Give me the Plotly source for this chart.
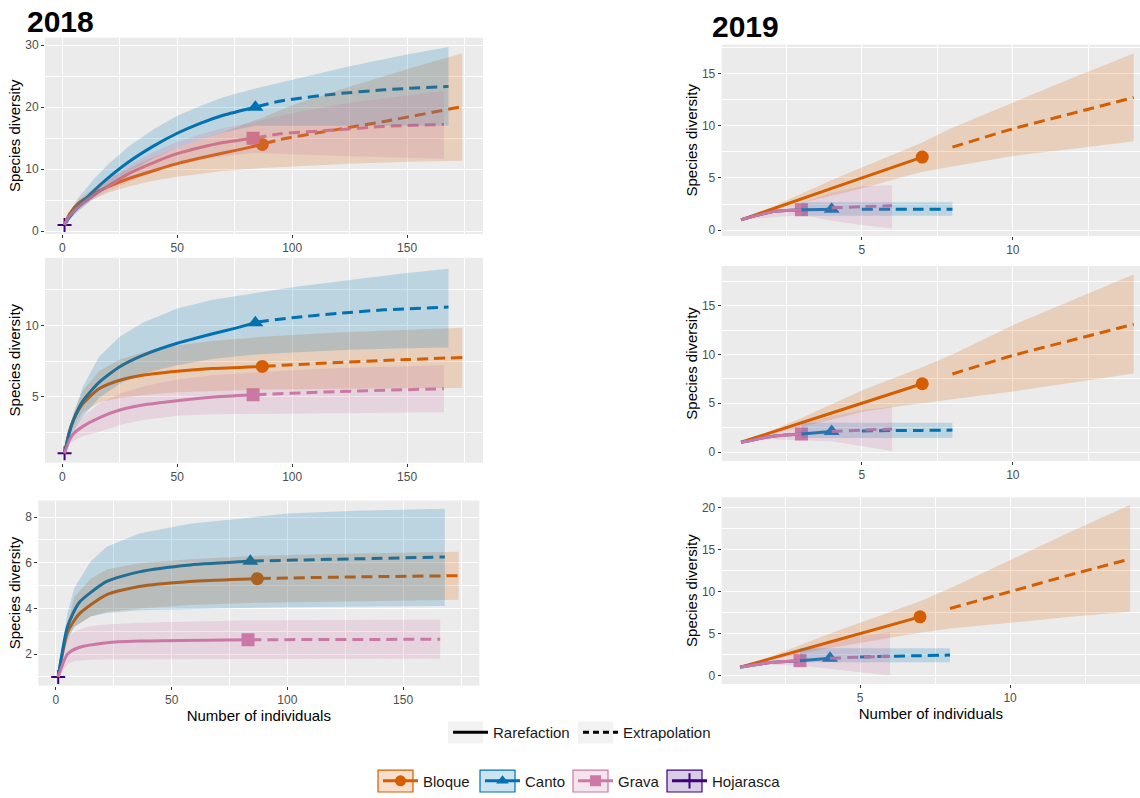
import plotly.graph_objects as go

# ---------------- groups ----------------
GROUPS = ["Bloque", "Canto", "Grava", "Hojarasca"]
COLORS = ["#D55E00", "#0072B2", "#CC79A7", "#3F007D"]
FILLS = ["rgba(213,94,0,0.2)", "rgba(0,114,178,0.2)", "rgba(204,121,167,0.2)", "rgba(63,0,125,0.2)"]
SYMBOLS = ["circle", "triangle-up", "square", "cross-thin"]
METHODS = ["Rarefaction", "Extrapolation"]

# ================= 2018, q = 0 =================
A_bloque_rx = [1, 3, 7, 14, 20, 29, 40, 50, 60, 70, 80, 87]
A_bloque_ry = [1, 2.7, 4.5, 6.1, 7.2, 8.5, 9.8, 10.9, 11.8, 12.6, 13.4, 14.0]
A_bloque_ex = [88, 95, 118, 140, 174]
A_bloque_ey = [14.1, 14.8, 16.3, 17.7, 20.1]
A_bloque_cx = [1, 3, 7, 14, 20, 29, 40, 50, 60, 70, 87, 100, 125, 150, 174]
A_bloque_hi = [1, 2.9, 5.0, 7.0, 8.4, 10.2, 12.0, 13.4, 14.8, 16.0, 18.3, 20.3, 23.3, 26.1, 28.7]
A_bloque_lo = [1, 2.5, 3.9, 5.3, 6.2, 7.2, 8.2, 8.8, 9.3, 9.7, 10.2, 10.5, 10.9, 11.2, 11.35]

A_canto_rx = [1, 3, 7, 14, 20, 29, 40, 50, 60, 70, 84]
A_canto_ry = [1, 2.2, 4.0, 6.6, 8.6, 11.2, 13.8, 15.8, 17.4, 18.7, 20.0]
A_canto_ex = [85, 95, 118, 140, 168]
A_canto_ey = [20.1, 21.0, 22.1, 22.8, 23.35]
A_canto_cx = [1, 3, 7, 14, 20, 29, 40, 50, 60, 70, 84, 100, 125, 150, 168]
A_canto_hi = [1, 3.0, 5.4, 8.5, 10.8, 13.7, 16.5, 18.6, 20.2, 21.6, 23.0, 24.4, 26.6, 28.5, 29.7]
A_canto_lo = [1, 1.9, 3.3, 5.5, 7.3, 9.6, 11.8, 13.4, 14.8, 15.9, 17.0, 17.0, 17.0, 17.0, 17.05]

A_grava_rx = [1, 3, 7, 14, 20, 29, 40, 50, 60, 70, 83]
A_grava_ry = [1, 2.4, 3.9, 5.9, 7.3, 9.3, 11.1, 12.5, 13.5, 14.3, 15.0]
A_grava_ex = [84, 95, 118, 140, 166]
A_grava_ey = [15.05, 15.7, 16.3, 16.9, 17.2]
A_grava_cx = [1, 3, 7, 14, 20, 29, 40, 50, 60, 70, 83, 100, 125, 150, 166]
A_grava_hi = [1, 2.7, 4.4, 6.6, 8.3, 10.7, 12.8, 14.4, 15.6, 16.6, 17.6, 19.0, 20.7, 21.9, 22.6]
A_grava_lo = [1, 2.1, 3.4, 5.3, 6.5, 8.0, 9.5, 10.7, 11.5, 12.1, 12.6, 12.4, 12.1, 11.9, 11.7]

A_hoja_rx = [1]
A_hoja_ry = [1]

# ================= 2018, q = 1 =================
B_bloque_rx = [1, 3, 5, 9, 16, 25, 35, 50, 65, 87]
B_bloque_ry = [1, 2.5, 3.4, 4.5, 5.55, 6.15, 6.5, 6.78, 6.97, 7.12]
B_bloque_ex = [88, 120, 150, 174]
B_bloque_ey = [7.13, 7.4, 7.6, 7.75]
B_bloque_cx = [1, 3, 5, 9, 16, 25, 35, 50, 65, 87, 120, 150, 174]
B_bloque_hi = [1, 2.8, 3.9, 5.4, 6.8, 7.6, 8.1, 8.6, 8.9, 9.2, 9.5, 9.7, 9.85]
B_bloque_lo = [1, 2.2, 2.9, 3.9, 4.6, 4.9, 5.1, 5.3, 5.4, 5.5, 5.55, 5.6, 5.6]

B_canto_rx = [1, 3, 5, 9, 16, 25, 35, 50, 65, 75, 84]
B_canto_ry = [1, 2.4, 3.4, 4.7, 6.0, 7.1, 7.9, 8.75, 9.4, 9.8, 10.2]
B_canto_ex = [85, 100, 120, 140, 168]
B_canto_ey = [10.25, 10.55, 10.85, 11.1, 11.3]
B_canto_cx = [1, 3, 5, 9, 16, 25, 35, 50, 65, 84, 100, 125, 150, 168]
B_canto_hi = [1, 2.7, 3.8, 5.7, 7.8, 9.2, 10.2, 11.2, 11.8, 12.3, 12.7, 13.2, 13.7, 14.0]
B_canto_lo = [1, 2.0, 2.6, 3.6, 4.9, 5.9, 6.6, 7.2, 7.65, 7.95, 8.1, 8.3, 8.4, 8.45]

B_grava_rx = [1, 3, 5, 9, 16, 25, 35, 50, 65, 83]
B_grava_ry = [1, 1.9, 2.4, 2.9, 3.5, 4.05, 4.4, 4.7, 4.95, 5.12]
B_grava_ex = [84, 120, 166]
B_grava_ey = [5.13, 5.35, 5.55]
B_grava_cx = [1, 3, 5, 9, 16, 25, 35, 50, 65, 83, 120, 166]
B_grava_hi = [1, 2.2, 2.9, 3.6, 4.5, 5.2, 5.7, 6.2, 6.5, 6.7, 7.0, 7.2]
B_grava_lo = [1, 1.6, 1.9, 2.2, 2.5, 3.0, 3.35, 3.65, 3.75, 3.8, 3.85, 3.9]

B_hoja_rx = [1]
B_hoja_ry = [1]

# ================= 2018, q = 2 =================
C_bloque_rx = [1, 5, 10, 22, 36, 58, 80, 87]
C_bloque_ry = [1, 2.95, 3.75, 4.6, 4.96, 5.18, 5.28, 5.3]
C_bloque_ex = [88, 130, 174]
C_bloque_ey = [5.31, 5.38, 5.43]
C_bloque_cx = [1, 5, 8, 15, 22, 36, 58, 87, 130, 174]
C_bloque_hi = [1, 3.3, 4.5, 5.3, 5.7, 5.98, 6.15, 6.3, 6.4, 6.48]
C_bloque_lo = [1, 2.7, 3.2, 3.65, 3.85, 4.0, 4.15, 4.25, 4.33, 4.38]

C_canto_rx = [1, 5, 10, 22, 36, 58, 84]
C_canto_ry = [1, 3.2, 4.25, 5.18, 5.6, 5.9, 6.06]
C_canto_ex = [85, 120, 168]
C_canto_ey = [6.07, 6.15, 6.25]
C_canto_cx = [1, 5, 8, 15, 22, 36, 58, 80, 100, 130, 168]
C_canto_hi = [1, 3.8, 4.9, 6.05, 6.7, 7.28, 7.7, 7.95, 8.15, 8.27, 8.36]
C_canto_lo = [1, 2.6, 3.2, 3.65, 3.8, 3.92, 3.98, 4.02, 4.05, 4.08, 4.1]

C_grava_rx = [1, 5, 10, 22, 36, 83]
C_grava_ry = [1, 2.0, 2.29, 2.5, 2.57, 2.63]
C_grava_ex = [84, 166]
C_grava_ey = [2.63, 2.65]
C_grava_cx = [1, 5, 8, 15, 22, 36, 80, 166]
C_grava_hi = [1, 2.7, 3.0, 3.23, 3.3, 3.37, 3.47, 3.52]
C_grava_lo = [1, 1.56, 1.7, 1.75, 1.78, 1.79, 1.79, 1.8]

C_hoja_rx = [1]
C_hoja_ry = [1]

# ================= 2019, q = 0 =================
D_bloque_rx = [1, 4, 7]
D_bloque_ry = [1, 4, 7]
D_bloque_ex = [8, 10, 12, 14]
D_bloque_ey = [7.95, 9.7, 11.2, 12.7]
D_bloque_cx = [1, 2, 3, 4, 5, 6, 7, 8, 10, 12, 14]
D_bloque_hi = [1, 2.2, 3.5, 4.8, 6.0, 7.2, 8.4, 9.8, 12.2, 14.6, 16.9]
D_bloque_lo = [1, 1.8, 2.6, 3.3, 4.0, 4.8, 5.6, 6.1, 7.1, 7.8, 8.5]

D_canto_rx = [1, 2, 3, 4]
D_canto_ry = [1, 1.75, 1.95, 2.0]
D_canto_ex = [5, 6, 7, 8]
D_canto_ey = [2.0, 2.0, 2.0, 2.0]
D_canto_cx = [3, 4, 5, 6, 7, 8]
D_canto_hi = [2.68, 2.68, 2.68, 2.68, 2.68, 2.68]
D_canto_lo = [1.38, 1.38, 1.38, 1.38, 1.38, 1.38]

D_grava_rx = [1, 2, 3]
D_grava_ry = [1, 1.75, 1.95]
D_grava_ex = [4, 5, 6]
D_grava_ey = [2.15, 2.25, 2.35]
D_grava_cx = [1, 2, 3, 4, 5, 6]
D_grava_hi = [1, 1.8, 2.6, 3.6, 4.2, 4.3]
D_grava_lo = [1, 1.2, 1.45, 0.9, 0.5, 0.2]

# ================= 2019, q = 1 =================
E_bloque_rx = [1, 4, 7]
E_bloque_ry = [1, 4, 7]
E_bloque_ex = [8, 10, 12, 14]
E_bloque_ey = [8.0, 9.9, 11.5, 13.1]
E_bloque_cx = [1, 2, 3, 4, 5, 6, 7, 8, 10, 12, 14]
E_bloque_hi = [1, 2.2, 3.5, 4.9, 6.3, 7.5, 8.7, 10.0, 13.0, 15.6, 18.2]
E_bloque_lo = [1, 1.8, 2.6, 3.3, 4.1, 4.6, 5.0, 5.4, 6.2, 7.1, 8.05]

E_canto_rx = [1, 2, 3, 4]
E_canto_ry = [1, 1.6, 1.85, 2.1]
E_canto_ex = [5, 6, 7, 8]
E_canto_ey = [2.15, 2.2, 2.22, 2.25]
E_canto_cx = [3, 4, 5, 6, 7, 8]
E_canto_hi = [3.0, 3.0, 3.0, 3.0, 3.0, 3.0]
E_canto_lo = [1.45, 1.45, 1.45, 1.45, 1.45, 1.45]

E_grava_rx = [1, 2, 3]
E_grava_ry = [1, 1.6, 1.85]
E_grava_ex = [4, 5, 6]
E_grava_ey = [2.1, 2.25, 2.35]
E_grava_cx = [1, 2, 3, 4, 5, 6]
E_grava_hi = [1, 1.9, 2.9, 3.7, 4.3, 4.65]
E_grava_lo = [1, 1.3, 1.2, 1.1, 0.6, 0.1]

# ================= 2019, q = 2 =================
F_bloque_rx = [1, 4, 7]
F_bloque_ry = [1, 4, 7]
F_bloque_ex = [8, 10, 12, 14]
F_bloque_ey = [8.0, 10.0, 12.0, 13.9]
F_bloque_cx = [1, 2, 3, 4, 5, 6, 7, 8, 10, 12, 14]
F_bloque_hi = [1, 2.2, 3.6, 5.0, 6.3, 7.6, 8.85, 10.4, 13.8, 17.1, 20.35]
F_bloque_lo = [1, 1.8, 2.6, 3.3, 3.9, 4.5, 5.1, 5.6, 6.3, 7.0, 7.6]

F_canto_rx = [1, 2, 3, 4]
F_canto_ry = [1, 1.55, 1.77, 2.05]
F_canto_ex = [5, 6, 7, 8]
F_canto_ey = [2.2, 2.3, 2.37, 2.44]
F_canto_cx = [3, 4, 5, 6, 7, 8]
F_canto_hi = [3.27, 3.27, 3.27, 3.27, 3.27, 3.27]
F_canto_lo = [1.58, 1.58, 1.58, 1.58, 1.58, 1.58]

F_grava_rx = [1, 2, 3]
F_grava_ry = [1, 1.55, 1.77]
F_grava_ex = [4, 5, 6]
F_grava_ey = [2.05, 2.2, 2.29]
F_grava_cx = [1, 2, 3, 4, 5, 6]
F_grava_hi = [1, 1.9, 2.9, 3.9, 4.7, 5.2]
F_grava_lo = [1, 1.3, 1.2, 0.8, 0.4, 0.0]

# ---------------- axis settings ----------------
X_TICKS_2018 = [0, 50, 100, 150]
X_TICKS_2019 = [5, 10]
Y_TICKS = {
    "A": [0, 10, 20, 30],
    "B": [5, 10],
    "C": [2, 4, 6, 8],
    "D": [0, 5, 10, 15],
    "E": [0, 5, 10, 15],
    "F": [0, 5, 10, 15, 20],
}
YEAR_LABELS = ["2018", "2019"]
Y_TITLE = "Species diversity"
X_TITLE = "Number of individuals"

W, H = 1140, 798


def px_dom_x(a, b):
    return [a / W, b / W]


def px_dom_y(top, bottom):
    return [1 - bottom / H, 1 - top / H]


PANELS = [
    dict(key="A", i=1, xd=(45, 483), yd=(38, 236), xr=[-7.5, 183], yr=[-0.43, 31.2], xdt=50, ydt=10),
    dict(key="B", i=2, xd=(45, 483), yd=(260, 466.7), xr=[-7.5, 183], yr=[0.35, 14.77], xdt=50, ydt=5),
    dict(key="C", i=3, xd=(38.3, 479.3), yd=(505, 691.7), xr=[-7.6, 182.9], yr=[0.62, 8.72], xdt=50, ydt=2),
    dict(key="D", i=4, xd=(721.7, 1140), yd=(45, 238), xr=[0.36, 14.21], yr=[-0.54, 17.75], xdt=5, ydt=5),
    dict(key="E", i=5, xd=(721.7, 1140), yd=(268.3, 465), xr=[0.36, 14.21], yr=[-0.91, 19.07], xdt=5, ydt=5),
    dict(key="F", i=6, xd=(721.7, 1140), yd=(501.7, 690), xr=[0.39, 14.33], yr=[-1.0, 21.25], xdt=5, ydt=5),
]

DATA = {}
for key in "ABCDEF":
    g = globals()
    series = []
    for gi, name in enumerate(["bloque", "canto", "grava"]):
        series.append(dict(
            gi=gi,
            rx=g[f"{key}_{name}_rx"], ry=g[f"{key}_{name}_ry"],
            ex=g[f"{key}_{name}_ex"], ey=g[f"{key}_{name}_ey"],
            cx=g[f"{key}_{name}_cx"], hi=g[f"{key}_{name}_hi"], lo=g[f"{key}_{name}_lo"],
        ))
    hoja = None
    if f"{key}_hoja_rx" in g:
        hoja = dict(rx=g[f"{key}_hoja_rx"], ry=g[f"{key}_hoja_ry"])
    DATA[key] = (series, hoja)

fig = go.Figure()
FONT = "Liberation Sans, Arial, sans-serif"

for p in PANELS:
    i = p["i"]
    xa = "x" if i == 1 else f"x{i}"
    ya = "y" if i == 1 else f"y{i}"
    series, hoja = DATA[p["key"]]
    # observed points (drawn first, as in ggiNEXT)
    for s in series:
        gi = s["gi"]
        fig.add_trace(go.Scatter(
            x=[s["rx"][-1]], y=[s["ry"][-1]], mode="markers", xaxis=xa, yaxis=ya,
            marker=dict(symbol=SYMBOLS[gi], size=13 if gi != 1 else 14, color=COLORS[gi]),
            showlegend=False, hoverinfo="skip"))
    if hoja is not None:
        fig.add_trace(go.Scatter(
            x=hoja["rx"], y=hoja["ry"], mode="markers", xaxis=xa, yaxis=ya,
            marker=dict(symbol="cross-thin", size=10, color=COLORS[3],
                        line=dict(color=COLORS[3], width=2)),
            showlegend=False, hoverinfo="skip"))
    # rarefaction / extrapolation lines
    for s in series:
        gi = s["gi"]
        fig.add_trace(go.Scatter(
            x=s["rx"], y=s["ry"], mode="lines", xaxis=xa, yaxis=ya,
            line=dict(color=COLORS[gi], width=3, shape="spline", smoothing=0.6),
            showlegend=False, hoverinfo="skip"))
        fig.add_trace(go.Scatter(
            x=s["ex"], y=s["ey"], mode="lines", xaxis=xa, yaxis=ya,
            line=dict(color=COLORS[gi], width=3, dash="11px,6px", shape="spline", smoothing=0.6),
            showlegend=False, hoverinfo="skip"))
    # confidence ribbons (on top, alpha 0.2)
    for s in series:
        gi = s["gi"]
        fig.add_trace(go.Scatter(
            x=list(s["cx"]) + list(s["cx"])[::-1],
            y=list(s["hi"]) + list(s["lo"])[::-1],
            mode="lines", fill="toself", fillcolor=FILLS[gi], xaxis=xa, yaxis=ya,
            line=dict(width=0, color=FILLS[gi]),
            showlegend=False, hoverinfo="skip"))

    common = dict(
        showgrid=True, gridcolor="white", gridwidth=1.2, zeroline=False, showline=False,
        ticks="outside", ticklen=3, tickwidth=1, tickcolor="#333333",
        tickfont=dict(family=FONT, size=12, color="#4D4D4D"), automargin=False,
    )
    xaxis = dict(common, domain=px_dom_x(*p["xd"]), range=p["xr"], anchor=ya,
                 tickmode="array",
                 tickvals=X_TICKS_2018 if p["key"] in "ABC" else X_TICKS_2019,
                 minor=dict(dtick=p["xdt"] / 2, tick0=0, showgrid=True, gridcolor="white",
                            gridwidth=0.6, ticklen=0))
    yaxis = dict(common, domain=px_dom_y(*p["yd"]), range=p["yr"], anchor=xa,
                 tickmode="array", tickvals=Y_TICKS[p["key"]],
                 minor=dict(dtick=p["ydt"] / 2, tick0=0, showgrid=True, gridcolor="white",
                            gridwidth=0.6, ticklen=0),
                 title=dict(text=Y_TITLE, font=dict(family=FONT, size=15, color="black"),
                            standoff=0))
    if p["key"] in "CF":
        xaxis["title"] = dict(text=X_TITLE, font=dict(family=FONT, size=15, color="black"),
                              standoff=2)
    fig.layout[("xaxis" if i == 1 else f"xaxis{i}")] = xaxis
    fig.layout[("yaxis" if i == 1 else f"yaxis{i}")] = yaxis

# ---------------- legends: one small legend per entry ----------------
# key box left edge (px) and vertical centre (px) for each entry
LEG_METHOD_LEFT = [448, 578]
LEG_METHOD_Y = 739
LEG_GROUP_LEFT = [378, 480, 573, 667]
LEG_GROUP_Y = 788

legend_layout = {}
shapes = []
for mi, m in enumerate(METHODS):
    lname = "legend" if mi == 0 else f"legend{mi + 1}"
    fig.add_trace(go.Scatter(
        x=[None], y=[None], mode="lines", name=m, legend=lname,
        line=dict(color="black", width=3, dash="solid" if mi == 0 else "6px,4px")))
    legend_layout[lname] = dict(
        x=LEG_METHOD_LEFT[mi] / W, xanchor="left", y=1 - LEG_METHOD_Y / H, yanchor="middle",
        font=dict(family=FONT, size=15, color="#1A1A1A"), bgcolor="rgba(0,0,0,0)",
        itemwidth=35, borderwidth=0)
    shapes.append(dict(type="rect", xref="paper", yref="paper", layer="below",
                       x0=LEG_METHOD_LEFT[mi] / W, x1=(LEG_METHOD_LEFT[mi] + 35) / W,
                       y0=1 - (LEG_METHOD_Y + 11) / H, y1=1 - (LEG_METHOD_Y - 11) / H,
                       fillcolor="#F2F2F2", line=dict(width=0)))
for gi, gname in enumerate(GROUPS):
    lname = f"legend{gi + 3}"
    fig.add_trace(go.Scatter(
        x=[None], y=[None], mode="lines+markers", name=gname, legend=lname,
        line=dict(color=COLORS[gi], width=3),
        marker=dict(symbol=SYMBOLS[gi], size=11, color=COLORS[gi],
                    line=dict(color=COLORS[gi], width=2 if gi == 3 else 0))))
    legend_layout[lname] = dict(
        x=LEG_GROUP_LEFT[gi] / W, xanchor="left", y=1 - LEG_GROUP_Y / H, yanchor="middle",
        font=dict(family=FONT, size=15, color="#1A1A1A"), bgcolor="rgba(0,0,0,0)",
        itemwidth=35, borderwidth=0)
    shapes.append(dict(type="rect", xref="paper", yref="paper", layer="below",
                       x0=LEG_GROUP_LEFT[gi] / W, x1=(LEG_GROUP_LEFT[gi] + 35) / W,
                       y0=1 - (LEG_GROUP_Y + 11) / H, y1=1 - (LEG_GROUP_Y - 11) / H,
                       fillcolor=FILLS[gi], line=dict(width=1.2, color=COLORS[gi])))

fig.update_layout(
    width=W, height=H,
    margin=dict(l=0, r=0, t=0, b=0),
    paper_bgcolor="white", plot_bgcolor="#EBEBEB",
    font=dict(family=FONT, color="#1A1A1A"),
    hovermode=False,
    shapes=shapes,
    annotations=[
        dict(text="<b>%s</b>" % YEAR_LABELS[0], x=25 / W, y=1 - 22 / H, xref="paper", yref="paper",
             xanchor="left", yanchor="middle", showarrow=False,
             font=dict(family=FONT, size=30, color="black")),
        dict(text="<b>%s</b>" % YEAR_LABELS[1], x=710 / W, y=1 - 27 / H, xref="paper", yref="paper",
             xanchor="left", yanchor="middle", showarrow=False,
             font=dict(family=FONT, size=30, color="black")),
    ],
    **legend_layout,
)

fig.write_html(
    "out.html",
    config={"displayModeBar": False},
    post_script="document.body.style.margin='0';document.body.style.overflow='hidden';",
)
